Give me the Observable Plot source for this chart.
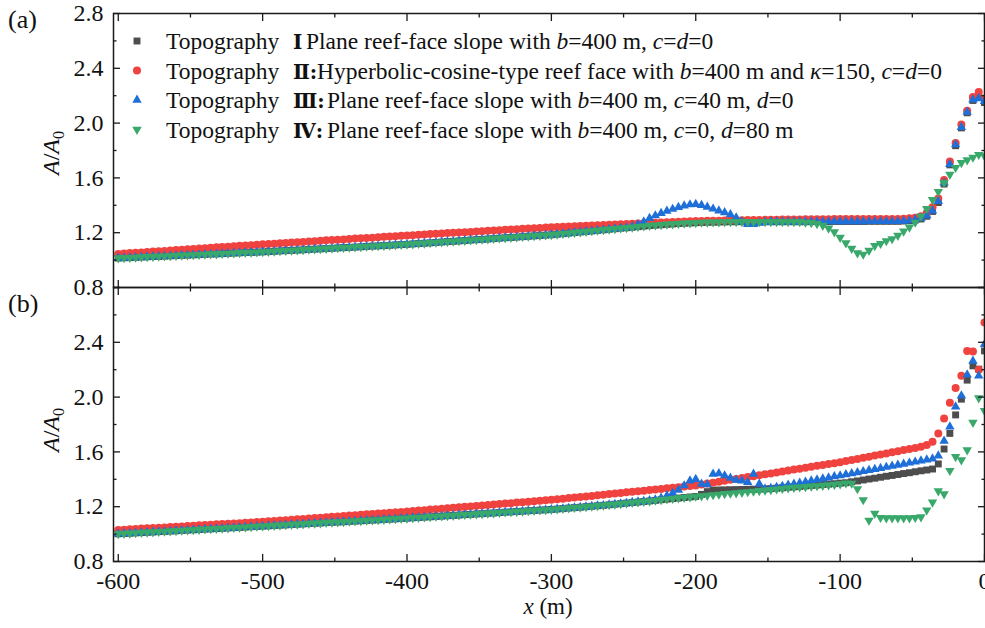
<!DOCTYPE html>
<html><head><meta charset="utf-8">
<script src="https://cdn.jsdelivr.net/npm/d3@7"></script>
<script src="https://cdn.jsdelivr.net/npm/@observablehq/plot@0.6"></script>
<style>body{margin:0;background:#fff}#chart{width:985px;height:628px}</style>
</head><body><div id="chart"></div>
<script>
// sampling grid (m): -600, -596, ..., 0
const xs = d3.range(-600, 1, 4);

// ---- panel (a) ----
const grayA = [1.015,1.017,1.018,1.020,1.022,1.024,1.026,1.027,1.029,1.031,1.033,1.035,1.036,1.038,1.040,1.042,1.044,1.045,1.047,1.049,1.051,1.053,1.055,1.056,1.058,1.060,
1.062,1.064,1.067,1.069,1.071,1.073,1.075,1.078,1.080,1.082,1.084,1.086,1.089,1.091,1.093,1.095,1.097,1.100,1.102,1.104,1.106,1.108,1.111,1.113,1.115,
1.118,1.121,1.123,1.126,1.129,1.132,1.135,1.137,1.140,1.143,1.146,1.149,1.151,1.154,1.157,1.160,1.163,1.165,1.168,1.171,1.174,1.177,1.179,1.182,1.185,
1.189,1.193,1.197,1.201,1.205,1.209,1.213,1.217,1.221,1.225,1.229,1.233,1.236,1.240,1.244,1.248,1.252,1.255,1.258,1.261,1.264,1.267,1.269,1.271,1.273,
1.275,1.276,1.277,1.278,1.279,1.280,1.280,1.280,1.280,1.280,1.280,1.280,1.280,1.280,1.280,1.280,1.280,1.280,1.280,
1.281,1.281,1.281,1.281,1.282,1.282,1.282,1.282,1.282,1.282,1.283,1.283,1.283,1.283,1.283,1.283,1.285,1.288,
1.292,1.300,1.320,1.355,1.420,1.555,1.695,1.835,1.965,2.075,2.165,2.190,2.150];
const redA = [1.045,1.048,1.051,1.053,1.056,1.059,1.062,1.065,1.067,1.070,1.073,1.076,1.079,1.081,1.084,1.087,1.090,1.093,1.095,1.098,1.101,1.104,1.107,1.109,1.112,1.115,
1.118,1.120,1.123,1.125,1.128,1.131,1.133,1.136,1.138,1.141,1.144,1.146,1.149,1.151,1.154,1.157,1.159,1.162,1.164,1.167,1.170,1.172,1.175,1.177,1.180,
1.182,1.185,1.187,1.190,1.192,1.194,1.197,1.199,1.202,1.204,1.206,1.209,1.211,1.214,1.216,1.218,1.221,1.223,1.226,1.228,1.230,1.233,1.235,1.238,1.240,
1.242,1.244,1.245,1.247,1.249,1.251,1.253,1.254,1.256,1.258,1.260,1.262,1.263,1.265,1.267,1.269,1.271,1.272,1.274,1.276,1.278,1.280,1.281,1.283,1.285,
1.286,1.287,1.287,1.288,1.289,1.290,1.290,1.291,1.292,1.293,1.293,1.294,1.295,1.295,1.296,1.296,1.297,1.297,1.298,1.298,1.299,1.299,1.299,1.300,1.300,
1.300,1.300,1.300,1.300,1.300,1.300,1.300,1.300,1.300,1.300,1.302,1.305,
1.310,1.320,1.345,1.385,1.450,1.585,1.720,1.855,1.990,2.090,2.190,2.227,2.180];
const blueA = [1.015,1.017,1.018,1.020,1.022,1.024,1.026,1.027,1.029,1.031,1.033,1.035,1.036,1.038,1.040,1.042,1.044,1.045,1.047,1.049,1.051,1.053,1.055,1.056,1.058,1.060,
1.062,1.064,1.067,1.069,1.071,1.073,1.075,1.078,1.080,1.082,1.084,1.086,1.089,1.091,1.093,1.095,1.097,1.100,1.102,1.104,1.106,1.108,1.111,1.113,1.115,
1.118,1.121,1.123,1.126,1.129,1.132,1.135,1.137,1.140,1.143,1.146,1.149,1.151,1.154,1.157,1.160,1.163,1.165,1.168,1.171,1.174,1.177,1.179,1.182,1.185,
1.189,1.193,1.197,1.201,1.205,1.209,1.213,1.217,1.221,1.225,1.229,1.233,1.236,
1.245,1.260,1.280,1.305,1.325,1.342,1.358,1.372,1.386,1.397,1.405,1.408,1.400,1.388,1.374,1.360,1.347,1.333,1.310,1.280,1.262,1.262,1.270,1.276,
1.280,1.280,1.280,1.280,1.280,1.280,1.280,
1.281,1.281,1.281,1.281,1.282,1.282,1.282,1.282,1.282,1.282,1.283,1.283,1.283,1.283,1.283,1.283,1.285,1.288,
1.295,1.305,1.325,1.360,1.430,1.564,1.700,1.843,1.970,2.080,2.170,2.180,2.160];
const greenA = [1.015,1.017,1.018,1.020,1.022,1.024,1.026,1.027,1.029,1.031,1.033,1.035,1.036,1.038,1.040,1.042,1.044,1.045,1.047,1.049,1.051,1.053,1.055,1.056,1.058,1.060,
1.062,1.064,1.067,1.069,1.071,1.073,1.075,1.078,1.080,1.082,1.084,1.086,1.089,1.091,1.093,1.095,1.097,1.100,1.102,1.104,1.106,1.108,1.111,1.113,1.115,
1.118,1.121,1.123,1.126,1.129,1.132,1.135,1.137,1.140,1.143,1.146,1.149,1.151,1.154,1.157,1.160,1.163,1.165,1.168,1.171,1.174,1.177,1.179,1.182,1.185,
1.189,1.193,1.197,1.201,1.205,1.209,1.213,1.217,1.221,1.225,1.229,1.233,1.236,1.240,1.244,1.248,1.252,1.255,1.258,1.261,1.264,1.267,1.269,1.271,1.273,
1.275,1.276,1.277,1.278,1.279,1.280,1.280,1.280,1.280,1.280,1.280,1.280,1.280,1.280,1.280,1.280,1.280,1.280,
1.275,1.272,1.265,1.252,1.232,1.205,1.165,1.125,1.085,1.052,1.042,1.070,1.105,1.120,1.140,1.155,1.180,1.210,1.240,1.275,1.320,1.375,1.440,1.500,1.565,1.625,1.675,1.710,1.730,1.750,1.770,1.760];

// ---- panel (b) ----
const grayB = [1.002,1.004,1.006,1.009,1.011,1.013,1.015,1.018,1.020,1.022,1.024,1.027,1.029,1.031,1.033,1.036,1.038,1.040,1.042,1.045,1.047,1.049,1.051,1.054,1.056,1.058,
1.060,1.063,1.065,1.067,1.070,1.072,1.074,1.077,1.079,1.081,1.084,1.086,1.088,1.090,1.093,1.095,1.097,1.100,1.102,1.104,1.107,1.109,1.111,1.114,1.116,
1.119,1.121,1.124,1.126,1.129,1.131,1.134,1.136,1.139,1.142,1.144,1.147,1.149,1.152,1.154,1.157,1.160,1.162,1.165,1.167,1.170,1.172,1.175,1.177,1.180,
1.183,1.186,1.190,1.193,1.196,1.200,1.203,1.207,1.210,1.214,1.218,1.222,1.226,1.230,1.234,1.238,1.242,1.246,1.251,1.255,1.259,1.263,1.267,1.271,1.275,
1.290,1.310,1.320,1.322,1.323,1.324,1.325,1.326,1.327,1.328,1.329,1.330,1.332,
1.335,1.338,1.342,1.345,1.348,1.352,1.355,1.358,1.362,1.365,1.368,1.372,1.375,
1.382,1.388,1.395,1.402,1.408,1.415,1.422,1.428,1.435,1.442,1.448,1.455,1.462,1.468,1.475,
1.512,1.621,1.735,1.870,1.985,2.124,2.228,2.204,2.337];
const redB = [1.030,1.032,1.035,1.037,1.040,1.042,1.044,1.047,1.049,1.052,1.054,1.056,1.059,1.061,1.064,1.066,1.068,1.071,1.073,1.076,1.078,1.080,1.083,1.085,1.088,1.090,
1.093,1.096,1.099,1.102,1.105,1.108,1.111,1.114,1.117,1.120,1.123,1.126,1.129,1.132,1.135,1.138,1.141,1.144,1.147,1.150,1.153,1.156,1.159,1.162,1.165,
1.168,1.172,1.175,1.179,1.182,1.185,1.189,1.192,1.196,1.199,1.202,1.206,1.209,1.213,1.216,1.219,1.223,1.226,1.230,1.233,1.236,1.240,1.243,1.247,1.250,
1.254,1.258,1.263,1.267,1.271,1.275,1.279,1.284,1.288,1.292,1.296,1.300,1.305,1.309,1.313,1.317,1.321,1.326,1.330,1.334,1.338,1.342,1.347,1.351,1.355,
1.362,1.369,1.375,1.382,1.389,1.396,1.403,1.409,1.416,1.423,1.430,1.437,1.443,1.450,1.457,1.464,1.471,1.477,1.484,1.491,1.498,1.505,1.511,1.518,1.525,
1.533,1.541,1.549,1.557,1.565,1.573,1.581,1.589,1.597,1.605,1.613,1.621,1.629,1.637,1.650,1.675,
1.735,1.844,1.958,2.066,2.155,2.337,2.332,2.200,2.544];
const blueB = [1.002,1.004,1.006,1.009,1.011,1.013,1.015,1.018,1.020,1.022,1.024,1.027,1.029,1.031,1.033,1.036,1.038,1.040,1.042,1.045,1.047,1.049,1.051,1.054,1.056,1.058,
1.060,1.063,1.065,1.067,1.070,1.072,1.074,1.077,1.079,1.081,1.084,1.086,1.088,1.090,1.093,1.095,1.097,1.100,1.102,1.104,1.107,1.109,1.111,1.114,1.116,
1.119,1.121,1.124,1.126,1.129,1.131,1.134,1.136,1.139,1.142,1.144,1.147,1.149,1.152,1.154,1.157,1.160,1.162,1.165,1.167,1.170,1.172,1.175,1.177,1.180,
1.183,1.186,1.190,1.193,1.196,1.200,1.203,1.207,1.210,1.214,1.218,1.222,1.226,
1.232,1.236,1.240,1.245,1.252,1.264,1.280,1.300,1.322,1.354,1.390,1.400,1.366,1.361,1.439,1.443,1.427,1.410,1.395,1.390,1.378,1.439,1.366,1.330,
1.335,1.343,1.350,1.358,1.366,1.373,1.381,1.389,1.397,1.404,1.412,1.420,1.427,1.435,1.443,1.450,1.458,1.466,1.473,1.481,1.489,1.497,1.504,1.512,1.520,1.527,1.535,1.543,1.550,
1.572,1.680,1.784,1.930,2.010,2.163,2.264,2.155,2.386];
const greenB = [1.002,1.004,1.006,1.009,1.011,1.013,1.015,1.018,1.020,1.022,1.024,1.027,1.029,1.031,1.033,1.036,1.038,1.040,1.042,1.045,1.047,1.049,1.051,1.054,1.056,1.058,
1.060,1.063,1.065,1.067,1.070,1.072,1.074,1.077,1.079,1.081,1.084,1.086,1.088,1.090,1.093,1.095,1.097,1.100,1.102,1.104,1.107,1.109,1.111,1.114,1.116,
1.119,1.121,1.124,1.126,1.129,1.131,1.134,1.136,1.139,1.142,1.144,1.147,1.149,1.152,1.154,1.157,1.160,1.162,1.165,1.167,1.170,1.172,1.175,1.177,1.180,
1.183,1.186,1.190,1.193,1.196,1.200,1.203,1.207,1.210,1.214,1.218,1.222,1.226,1.230,1.234,1.238,1.242,1.246,1.251,1.255,1.259,1.263,1.267,1.271,1.275,
1.278,1.282,1.286,1.290,1.294,1.297,1.300,1.304,1.308,1.312,1.316,1.320,1.324,
1.328,1.332,1.336,1.340,1.343,1.346,1.349,1.352,1.355,1.358,1.362,1.366,
1.372,1.370,1.330,1.250,1.100,1.150,1.120,
1.118,1.117,1.117,1.117,1.118,1.120,1.125,
1.175,1.232,1.315,1.293,1.463,1.565,1.541,1.614,1.815,1.993,1.900];

// ticks
const yMajor = [0.8, 1.2, 1.6, 2.0, 2.4, 2.8];
const yMinor = [1.0, 1.4, 1.8, 2.2, 2.6];
const yLabelsA = [0.8, 1.2, 1.6, 2.0, 2.4, 2.8];
const yLabelsB = [0.8, 1.2, 1.6, 2.0, 2.4];
const xMajor = [-600, -500, -400, -300, -200, -100, 0];
const xMinor = [-550, -450, -350, -250, -150, -50];

// legend
const legendNums = ["Ⅰ", "Ⅱ:", "Ⅲ:", "Ⅳ:"];
const legendTexts = [
  [["Plane reef-face slope with ",0],["b",1],["=400 m, ",0],["c",1],["=",0],["d",1],["=0",0]],
  [["Hyperbolic-cosine-type reef face with ",0],["b",1],["=400 m and ",0],["κ",1],["=150, ",0],["c",1],["=",0],["d",1],["=0",0]],
  [["Plane reef-face slope with ",0],["b",1],["=400 m, ",0],["c",1],["=40 m, ",0],["d",1],["=0",0]],
  [["Plane reef-face slope with ",0],["b",1],["=400 m, ",0],["c",1],["=0, ",0],["d",1],["=80 m",0]]
];

const COL = {gray:"#4d4d4d", red:"#f0433f", blue:"#1f6fd8", green:"#39a86b"};
const FONT = "'Liberation Serif','Times New Roman',serif";

const rows = (panel, vals) => xs.map((x, i) => ({panel, x, v: vals[i]}));
const both = (a, b) => rows("a", a).concat(rows("b", b));

const tk = (anchor, data, size) => (anchor === "left" || anchor === "right" ? Plot.axisY : Plot.axisX)(data, {
  anchor, tickSize: size, facetAnchor: null, label: null, fill: "none",
  tickFormat: () => "", stroke: "#1a1a1a", strokeWidth: 1.3
});

const yLab = yLabelsA.map(v => ({panel:"a", v})).concat(yLabelsB.map(v => ({panel:"b", v})));
const xLab = xMajor.map(v => ({panel:"b", v}));

const chart = Plot.plot({
  width: 985, height: 628,
  marginLeft: 113, marginRight: 1, marginTop: 12, marginBottom: 67,
  style: {background: "#fff", overflow: "visible"},
  x: {domain: [-603.3, 0]},
  y: {domain: [0.8, 2.8]},
  fy: {domain: ["a","b"], padding: 0, axis: null},
  marks: [
    Plot.dot(both(grayA, grayB), {x:"x", y:"v", fy:"panel", symbol:"square", r:3.9, fill:COL.gray}),
    Plot.dot(both(redA, redB), {x:"x", y:"v", fy:"panel", symbol:"circle", r:4, fill:COL.red}),
    Plot.dot(both(blueA, blueB), {x:"x", y:"v", fy:"panel", symbol:"triangle", r:3.5, fill:COL.blue}),
    Plot.dot(both(greenA, greenB), {x:"x", y:"v", fy:"panel", symbol:"triangle", r:3.5, rotate:180, fill:COL.green}),
    Plot.frame({stroke:"#1a1a1a", strokeWidth:1.5}),
    tk("bottom", xMajor, -7), tk("top", xMajor, -7),
    tk("bottom", xMinor, -3.5), tk("top", xMinor, -3.5),
    tk("left", yMajor, -7), tk("right", yMajor, -7),
    tk("left", yMinor, -3.5), tk("right", yMinor, -3.5),
    Plot.text(yLab, {fy:"panel", y:"v", text: d => d.v.toFixed(1), frameAnchor:"left", dx:-10, textAnchor:"end",
      fontSize:24, fontFamily:FONT, fill:"#111"}),
    Plot.text(xLab, {fy:"panel", x:"v", text: d => String(d.v), frameAnchor:"bottom", dy:10, lineAnchor:"top",
      fontSize:24, fontFamily:FONT, fill:"#111"})
  ]
});
document.getElementById("chart").appendChild(chart);

// overlay texts
const svg = d3.select(chart);
const g = svg.append("g").attr("font-family", FONT).attr("fill", "#111")
  .attr("text-anchor", "start").style("white-space", "pre");

g.append("text").attr("x", 8).attr("y", 28).attr("font-size", 26).text("(a)");
g.append("text").attr("x", 8).attr("y", 312).attr("font-size", 26).text("(b)");

function yTitle(cy) {
  const t = g.append("text").attr("transform", `translate(59,${cy}) rotate(-90)`).attr("text-anchor", "middle").attr("font-size", 24);
  t.append("tspan").attr("font-style", "italic").text("A");
  t.append("tspan").text("/");
  t.append("tspan").attr("font-style", "italic").text("A");
  t.append("tspan").attr("font-size", 16).attr("dy", 5).text("0");
}
yTitle(153);
yTitle(430);

const xt = g.append("text").attr("x", 548).attr("y", 614).attr("text-anchor", "middle").attr("font-size", 23);
xt.append("tspan").attr("font-style", "italic").text("x");
xt.append("tspan").text(" (m)");

// legend
const legSyms = [
  {sym: d3.symbolSquare, r: 3.9, rot: 0, c: COL.gray, restX: 306},
  {sym: d3.symbolCircle, r: 4, rot: 0, c: COL.red, restX: 317},
  {sym: d3.symbolTriangle, r: 3.5, rot: 0, c: COL.blue, restX: 327},
  {sym: d3.symbolTriangle, r: 3.5, rot: 180, c: COL.green, restX: 327}
];
const rowY = [41, 70.5, 100, 129.5];
legSyms.forEach((s, i) => {
  const cy = rowY[i];
  g.append("path").attr("d", d3.symbol(s.sym, Math.PI * s.r * s.r)())
    .attr("transform", `translate(137,${cy}) rotate(${s.rot})`).attr("fill", s.c);
  const t = g.append("text").attr("y", cy + 8).attr("font-size", 23.5);
  t.append("tspan").attr("x", 166).text("Topography");
  t.append("tspan").attr("x", 293).attr("font-family", "'DejaVu Serif','Noto Sans CJK SC',serif").attr("font-weight", "bold").attr("font-size", 20).text(legendNums[i]);
  const r = t.append("tspan").attr("x", s.restX);
  legendTexts[i].forEach(([txt, it], j) => {
    const sp = j === 0 ? r : t.append("tspan");
    sp.text(txt);
    if (it) sp.attr("font-style", "italic");
  });
});
</script>
</body></html>
